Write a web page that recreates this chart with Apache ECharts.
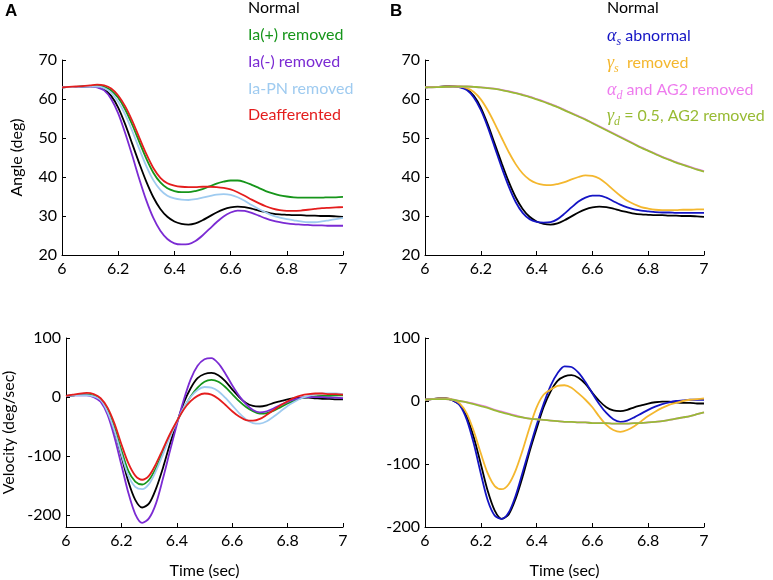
<!DOCTYPE html>
<html>
<head>
<meta charset="utf-8">
<title>Angle / Velocity</title>
<script src="https://cdn.jsdelivr.net/npm/echarts@6.0.0/dist/echarts.min.js"></script>
<style>
  html, body { margin: 0; padding: 0; background: #fff; }
  #main { width: 773px; height: 580px; }
</style>
</head>
<body>
<div id="main"></div>
<script>
// 时间轴 (sec)
var timeData = [6.000, 6.025, 6.050, 6.075, 6.100, 6.125, 6.150, 6.175, 6.200, 6.225,
  6.250, 6.275, 6.300, 6.325, 6.350, 6.375, 6.400, 6.425, 6.450, 6.475,
  6.500, 6.525, 6.550, 6.575, 6.600, 6.625, 6.650, 6.675, 6.700, 6.725,
  6.750, 6.775, 6.800, 6.825, 6.850, 6.875, 6.900, 6.925, 6.950, 6.975, 7.000];

// 角度 (deg)
var angleNormal = [63.0, 63.05, 63.1, 63.2, 63.25, 63.1, 62.5, 60.8, 57.8, 53.5,
  48.5, 43.5, 38.8, 34.8, 31.8, 29.8, 28.6, 28.0, 27.8, 28.1,
  28.9, 29.9, 30.9, 31.7, 32.2, 32.4, 32.3, 31.9, 31.4, 31.0,
  30.6, 30.4, 30.3, 30.2, 30.2, 30.1, 30.1, 30.0, 30.0, 29.9, 29.8];
var angleIaPlus = [63.0, 63.05, 63.1, 63.2, 63.3, 63.4, 63.1, 62.2, 60.3, 57.3,
  53.4, 49.0, 44.7, 41.1, 38.6, 37.1, 36.4, 36.1, 36.1, 36.4,
  36.9, 37.6, 38.3, 38.8, 39.1, 39.1, 38.7, 38.0, 37.2, 36.4,
  35.8, 35.3, 35.0, 34.8, 34.7, 34.7, 34.7, 34.7, 34.8, 34.8, 34.9];
var angleIaMinus = [63.0, 63.05, 63.1, 63.15, 63.2, 63.0, 62.2, 60.0, 56.3, 51.2,
  45.5, 39.5, 34.0, 29.5, 26.2, 24.1, 23.0, 22.7, 22.8, 23.6,
  25.0, 26.7, 28.4, 29.9, 30.9, 31.4, 31.3, 30.8, 30.1, 29.4,
  28.8, 28.4, 28.1, 27.9, 27.8, 27.7, 27.6, 27.6, 27.5, 27.5, 27.5];
var angleIaPN = [63.0, 63.05, 63.1, 63.15, 63.2, 63.2, 62.8, 61.6, 59.3, 56.0,
  51.8, 47.2, 42.8, 39.2, 36.7, 35.2, 34.5, 34.2, 34.1, 34.3,
  34.7, 35.1, 35.5, 35.6, 35.4, 34.8, 33.9, 32.8, 31.8, 30.9,
  30.1, 29.6, 29.2, 28.9, 28.6, 28.4, 28.4, 28.6, 28.9, 29.2, 29.5];
var angleDeaff = [63.0, 63.1, 63.2, 63.3, 63.5, 63.7, 63.5, 62.7, 60.9, 58.1,
  54.4, 50.1, 45.9, 42.3, 39.8, 38.4, 37.8, 37.5, 37.4, 37.4,
  37.5, 37.5, 37.4, 37.2, 36.8, 36.1, 35.2, 34.2, 33.3, 32.5,
  31.9, 31.5, 31.3, 31.3, 31.4, 31.6, 31.8, 32.0, 32.1, 32.2, 32.3];
var angleAlphaS = [63.0, 63.05, 63.1, 63.2, 63.25, 63.0, 62.3, 60.4, 57.2, 52.8,
  47.6, 42.4, 37.6, 33.6, 30.8, 29.2, 28.5, 28.3, 28.4, 29.2,
  30.6, 32.2, 33.7, 34.7, 35.2, 35.2, 34.7, 33.8, 32.9, 32.2,
  31.7, 31.4, 31.2, 31.0, 30.9, 30.9, 30.8, 30.8, 30.8, 30.8, 30.8];
var angleGammaS = [63.0, 63.05, 63.1, 63.2, 63.25, 63.2, 62.8, 61.8, 59.9, 57.1,
  53.7, 50.0, 46.4, 43.3, 40.9, 39.3, 38.4, 38.0, 37.9, 38.2,
  38.7, 39.4, 40.0, 40.4, 40.3, 39.6, 38.3, 36.7, 35.2, 33.9,
  33.0, 32.3, 31.9, 31.6, 31.5, 31.5, 31.5, 31.6, 31.6, 31.7, 31.7];
var angleAlphaD = [63.0, 63.0, 63.05, 63.1, 63.15, 63.2, 63.2, 63.1, 63.0, 62.85,
  62.65, 62.35, 62.0, 61.6, 61.1, 60.6, 60.0, 59.4, 58.7, 58.0,
  57.2, 56.4, 55.6, 54.8, 53.9, 53.0, 52.1, 51.2, 50.3, 49.4,
  48.5, 47.6, 46.8, 46.0, 45.2, 44.5, 43.8, 43.2, 42.6, 42.0, 41.5];
var angleGammaD = [63.0, 63.0, 63.05, 63.1, 63.15, 63.2, 63.2, 63.1, 63.0, 62.8,
  62.6, 62.3, 61.9, 61.5, 61.0, 60.5, 59.9, 59.3, 58.6, 57.9,
  57.1, 56.3, 55.5, 54.7, 53.8, 52.9, 52.0, 51.1, 50.2, 49.3,
  48.4, 47.5, 46.7, 45.9, 45.1, 44.4, 43.7, 43.1, 42.5, 41.9, 41.4];

// 速度 (deg/sec)
var velNormal = [2, 3, 4, 4, 1, -6, -25, -58, -100, -143,
  -174, -187, -180, -155, -120, -80, -44, -10, 15, 32,
  39, 41, 37, 27, 13, 0, -10, -15, -16, -14,
  -10, -7, -4, -2, -1, -1, -2, -3, -3, -4, -4];
var velIaPlus = [2, 3, 4, 4, 2, -4, -22, -52, -90, -125,
  -143, -148, -140, -120, -93, -65, -42, -19, 1, 16,
  26, 29, 26, 17, 5, -7, -17, -24, -28, -27,
  -23, -17, -11, -6, -2, 0, 1, 2, 2, 3, 3];
var velIaMinus = [2, 3, 3, 3, 0, -8, -30, -68, -115, -162,
  -198, -213, -205, -180, -138, -92, -47, -5, 30, 53,
  64, 66, 57, 40, 20, 2, -12, -22, -26, -24,
  -19, -13, -8, -4, -1, 0, 0, 0, -1, -1, -2];
var velIaPN = [2, 3, 3, 3, 1, -5, -25, -57, -97, -133,
  -152, -156, -147, -125, -97, -68, -42, -18, 0, 12,
  17, 16, 10, -1, -14, -27, -38, -44, -45, -41,
  -33, -24, -15, -8, -2, 2, 5, 6, 6, 6, 5];
var velDeaff = [2, 4, 6, 7, 5, -2, -18, -45, -80, -112,
  -133, -140, -133, -113, -88, -63, -41, -21, -7, 2,
  6, 4, -3, -13, -24, -33, -39, -40, -37, -30,
  -22, -14, -7, -1, 3, 5, 6, 6, 5, 5, 4];
var velAlphaS = [2, 3, 4, 4, 1, -7, -30, -68, -115, -158,
  -182, -187, -177, -150, -113, -75, -38, -5, 24, 44,
  55, 54, 45, 30, 12, -5, -19, -29, -33, -31,
  -26, -20, -14, -9, -5, -2, 0, 1, 2, 2, 2];
var velGammaS = [2, 3, 4, 4, 2, -4, -20, -48, -83, -115,
  -135, -140, -132, -110, -78, -42, -10, 10, 18, 24,
  25, 21, 12, 2, -10, -25, -38, -46, -49, -46,
  -40, -32, -24, -17, -11, -6, -3, 0, 2, 3, 4];
var velAlphaD = [2, 3, 3, 3, 2, 0, -2, -4, -7, -10,
  -14, -17, -20, -23, -26, -28, -29, -30, -31, -32,
  -33, -33, -34, -34, -35, -35, -35, -36, -36, -36,
  -35, -35, -34, -33, -32, -30, -28, -26, -24, -21, -18];
var velGammaD = [2, 3, 3, 3, 2, 0, -2, -5, -8, -11,
  -15, -18, -21, -24, -26, -28, -29, -30, -31, -32,
  -33, -33, -34, -34, -35, -35, -35, -36, -36, -36,
  -35, -35, -34, -33, -32, -30, -28, -26, -24, -21, -18];

// 刻度
var timeTicks = [6, 7, 0.2];
var angleTicks = [20, 70, 10];
var velTicksA = [-200, -100, 0, 100];

(function () {
  var myChart = echarts.init(document.getElementById('main'));
  var font = 'Lato, "Open Sans", sans-serif';
  var greekFont = '"Liberation Serif", serif';

  var colors = {
    normal: '#000000',
    iaPlus: '#16951a',
    iaMinus: '#7b2bd3',
    iaPN: '#9fcbf0',
    deaff: '#e41d1d',
    alphaS: '#1414c4',
    gammaS: '#f4b72e',
    alphaD: '#ee7cee',
    gammaD: '#98bb34'
  };

  // 把时间和数值拼成点
  function pairs(arr) {
    return timeData.map(function (t, i) { return [t, arr[i]]; });
  }

  function line(name, arr, color, idx) {
    return {
      name: name,
      type: 'line',
      xAxisIndex: idx,
      yAxisIndex: idx,
      data: pairs(arr),
      showSymbol: false,
      smooth: 0.3,
      animation: false,
      lineStyle: { color: color, width: 1.8 },
      itemStyle: { color: color }
    };
  }

  function xAxis(idx, withName) {
    return {
      type: 'value',
      gridIndex: idx,
      min: timeTicks[0],
      max: timeTicks[1],
      interval: timeTicks[2],
      name: withName ? 'Time (sec)' : '',
      nameLocation: 'middle',
      nameGap: 36,
      nameTextStyle: { color: '#000', fontSize: 16, fontFamily: font },
      splitLine: { show: false },
      axisLine: { onZero: false, lineStyle: { color: '#000', width: 1 } },
      axisTick: { inside: true, length: 4, lineStyle: { color: '#000' } },
      axisLabel: { color: '#000', fontSize: 16, fontFamily: font, margin: 6 }
    };
  }

  function yAxis(idx, min, max, interval, name, gap, custom) {
    var ax = {
      type: 'value',
      gridIndex: idx,
      min: min,
      max: max,
      name: name,
      nameLocation: 'middle',
      nameGap: gap,
      nameTextStyle: { color: '#000', fontSize: 16, fontFamily: font },
      splitLine: { show: false },
      axisLine: { show: true, onZero: false, lineStyle: { color: '#000', width: 1 } },
      axisTick: { inside: true, length: 4, lineStyle: { color: '#000' } },
      axisLabel: { color: '#000', fontSize: 16, fontFamily: font, margin: 5 }
    };
    if (custom) {
      ax.axisTick.customValues = custom;
      ax.axisLabel.customValues = custom;
    } else {
      ax.interval = interval;
    }
    return ax;
  }

  // 图例文字 (手动排版)
  function legendText(x, y, text, color) {
    var rich = {
      g: { fontSize: 18, fontFamily: greekFont, fontStyle: 'italic', color: color, lineHeight: 24, verticalAlign: 'middle' },
      s: { fontSize: 12, fontFamily: greekFont, fontStyle: 'italic', color: color, lineHeight: 12, verticalAlign: 'bottom' },
      t: { fontSize: 16, fontFamily: font, color: color, lineHeight: 24, verticalAlign: 'middle' }
    };
    return {
      type: 'text',
      left: x,
      top: y - 12,
      style: { text: text, rich: rich, fill: color, font: '16px ' + font }
    };
  }

  var legendYs = [12, 39, 66, 93, 119];

  option = {
    backgroundColor: '#fff',
    animation: false,
    grid: [
      { left: 62, top: 60, width: 281, height: 195 },
      { left: 425, top: 60, width: 279, height: 195 },
      { left: 62, top: 338, width: 281, height: 195 },
      { left: 425, top: 338, width: 279, height: 195 }
    ],
    xAxis: [xAxis(0, false), xAxis(1, false), xAxis(2, true), xAxis(3, true)],
    yAxis: [
      yAxis(0, angleTicks[0], angleTicks[1], angleTicks[2], 'Angle (deg)', 37),
      yAxis(1, angleTicks[0], angleTicks[1], angleTicks[2], '', 0),
      yAxis(2, -220, 100, 100, 'Velocity (deg/sec)', 49, velTicksA),
      yAxis(3, -200, 100, 100, '', 0)
    ],
    graphic: [
      { type: 'text', left: 5, top: 3, style: { text: 'A', font: 'bold 17px "Liberation Sans", Arial, sans-serif', fill: '#000' } },
      { type: 'text', left: 390, top: 3, style: { text: 'B', font: 'bold 17px "Liberation Sans", Arial, sans-serif', fill: '#000' } },
      legendText(248, legendYs[0], '{t|Normal}', colors.normal),
      legendText(248, legendYs[1], '{t|Ia(+) removed}', colors.iaPlus),
      legendText(248, legendYs[2], '{t|Ia(-) removed}', colors.iaMinus),
      legendText(248, legendYs[3], '{t|Ia-PN removed}', colors.iaPN),
      legendText(248, legendYs[4], '{t|Deafferented}', colors.deaff),
      legendText(607, legendYs[0], '{t|Normal}', colors.normal),
      legendText(607, legendYs[1], '{g|α}{s|s}{t| abnormal}', colors.alphaS),
      legendText(607, legendYs[2], '{g|γ}{s|s}{t|  removed}', colors.gammaS),
      legendText(607, legendYs[3], '{g|α}{s|d}{t| and AG2 removed}', colors.alphaD),
      legendText(607, legendYs[4], '{g|γ}{s|d}{t| = 0.5, AG2 removed}', colors.gammaD)
    ],
    series: [
      // A 角度
      line('Normal', angleNormal, colors.normal, 0),
      line('Ia(+) removed', angleIaPlus, colors.iaPlus, 0),
      line('Ia(-) removed', angleIaMinus, colors.iaMinus, 0),
      line('Ia-PN removed', angleIaPN, colors.iaPN, 0),
      line('Deafferented', angleDeaff, colors.deaff, 0),
      // B 角度
      line('Normal', angleNormal, colors.normal, 1),
      line('αs abnormal', angleAlphaS, colors.alphaS, 1),
      line('γs removed', angleGammaS, colors.gammaS, 1),
      line('αd and AG2 removed', angleAlphaD, colors.alphaD, 1),
      line('γd = 0.5, AG2 removed', angleGammaD, colors.gammaD, 1),
      // A 速度
      line('Normal', velNormal, colors.normal, 2),
      line('Ia(+) removed', velIaPlus, colors.iaPlus, 2),
      line('Ia(-) removed', velIaMinus, colors.iaMinus, 2),
      line('Ia-PN removed', velIaPN, colors.iaPN, 2),
      line('Deafferented', velDeaff, colors.deaff, 2),
      // B 速度
      line('Normal', velNormal, colors.normal, 3),
      line('αs abnormal', velAlphaS, colors.alphaS, 3),
      line('γs removed', velGammaS, colors.gammaS, 3),
      line('αd and AG2 removed', velAlphaD, colors.alphaD, 3),
      line('γd = 0.5, AG2 removed', velGammaD, colors.gammaD, 3)
    ]
  };

  myChart.setOption(option);
  window.addEventListener('resize', function () {
    myChart.resize();
  });
})();
</script>
</body>
</html>
